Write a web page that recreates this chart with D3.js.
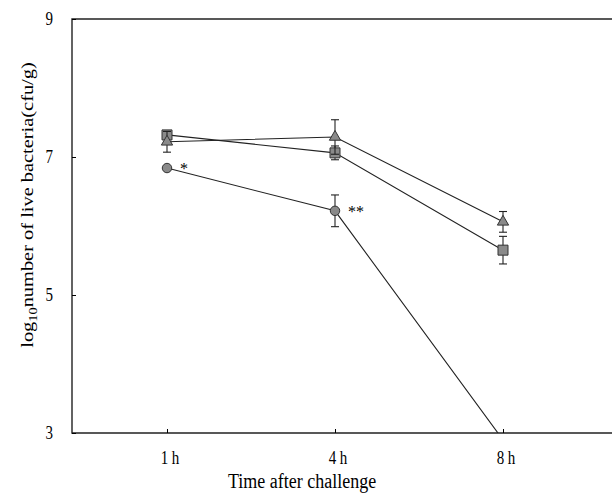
<!DOCTYPE html>
<html>
<head>
  <meta charset="utf-8">
  <title>Live bacteria</title>
  <script src="https://d3js.org/d3.v7.min.js"></script>
  <style>
    body { margin: 0; background: #fff; }
    text { font-family: "Liberation Serif", "Times New Roman", serif; fill: #000; }
  </style>
</head>
<body>
<div id="chart"></div>
<script type="text/javascript">
  let w = 612;
  let h = 495;

  // data
  let times = ['1 h', '4 h', '8 h'];
  let circleVals = [6.84, 6.22, 2.9];
  let circleErr = [0.02, 0.23, 0];
  let squareVals = [7.32, 7.06, 5.65];
  let squareErr = [0.05, 0.1, 0.2];
  let triangleVals = [7.22, 7.29, 6.06];
  let triangleErr = [0.15, 0.25, 0.15];
  let yTicks = [3, 5, 7, 9];
  let stars = ['*', '**', ''];

  let pLeft = 72, pRight = 612, pTop = 19, pBottom = 433;
  let stretch = 1.2; // the scanned text is taller than it is wide

  let xScale = d3.scalePoint().domain(times).range([167, 503]);
  let yScale = d3.scaleLinear().domain([3, 9]).range([pBottom, pTop]);

  let svg = d3.select('#chart')
              .append('svg')
              .attr('width', w)
              .attr('height', h);

  svg.append('clipPath').attr('id', 'plot')
     .append('rect')
     .attr('x', pLeft).attr('y', pTop)
     .attr('width', pRight - pLeft).attr('height', pBottom - pTop);

  // frame
  svg.append('path')
     .attr('d', `M${pRight},${pTop}H${pLeft}V${pBottom}H${pRight}`)
     .attr('fill', 'none')
     .attr('stroke', '#222')
     .attr('stroke-width', 1.4);

  // axes (ticks pointing inward)
  let yAxis = d3.axisRight(yScale).tickValues(yTicks).tickSize(4).tickFormat('');
  svg.append('g').attr('transform', `translate(${pLeft},0)`).call(yAxis)
     .call(g => g.select('.domain').remove());
  svg.selectAll('.ylab').data(yTicks).enter().append('text')
     .attr('transform', d => `translate(${pLeft - 19},${yScale(d) + 6}) scale(1,${stretch})`)
     .attr('text-anchor', 'end')
     .attr('font-size', '15px')
     .text(d => d);

  let xAxis = d3.axisTop(xScale).tickSize(4).tickFormat('');
  svg.append('g').attr('transform', `translate(0,${pBottom})`).call(xAxis)
     .call(g => g.select('.domain').remove());
  svg.selectAll('.xlab').data(times).enter().append('text')
     .attr('transform', d => `translate(${xScale(d) + 3},${pBottom + 31}) scale(1,${stretch})`)
     .attr('text-anchor', 'middle')
     .attr('font-size', '15px')
     .text(d => d);

  svg.append('text')
     .attr('transform', `translate(302,488) scale(1,${stretch})`)
     .attr('text-anchor', 'middle')
     .attr('font-size', '18px')
     .text('Time after challenge');

  let yl = svg.append('text')
     .attr('transform', `translate(33,205) rotate(-90) scale(${stretch},1)`)
     .attr('text-anchor', 'middle')
     .attr('font-size', '17px');
  yl.append('tspan').text('log');
  yl.append('tspan').attr('font-size', '12px').attr('dy', 4).text('10');
  yl.append('tspan').attr('dy', -4).text('number of live bacteria(cfu/g)');

  let plot = svg.append('g').attr('clip-path', 'url(#plot)');
  let line = d3.line().x((d, i) => xScale(times[i])).y(d => yScale(d));

  let series = [
    { vals: squareVals, err: squareErr, shape: d3.symbolSquare, size: 100 },
    { vals: triangleVals, err: triangleErr, shape: d3.symbolTriangle, size: 55 },
    { vals: circleVals, err: circleErr, shape: d3.symbolCircle, size: 70 }
  ];

  series.forEach(s => {
    plot.append('path')
        .attr('d', line(s.vals))
        .attr('fill', 'none')
        .attr('stroke', '#222')
        .attr('stroke-width', 1.1);

    let pts = s.vals.map((v, i) => ({ t: times[i], v: v, e: s.err[i] }))
                    .filter(p => p.v >= 3);

    let eb = plot.selectAll(null).data(pts.filter(p => p.e > 0.05)).enter().append('g')
                 .attr('stroke', '#222').attr('stroke-width', 1.1);
    eb.append('line')
      .attr('x1', p => xScale(p.t)).attr('x2', p => xScale(p.t))
      .attr('y1', p => yScale(p.v + p.e)).attr('y2', p => yScale(p.v - p.e));
    eb.append('line')
      .attr('x1', p => xScale(p.t) - 4).attr('x2', p => xScale(p.t) + 4)
      .attr('y1', p => yScale(p.v + p.e)).attr('y2', p => yScale(p.v + p.e));
    eb.append('line')
      .attr('x1', p => xScale(p.t) - 4).attr('x2', p => xScale(p.t) + 4)
      .attr('y1', p => yScale(p.v - p.e)).attr('y2', p => yScale(p.v - p.e));

    plot.selectAll(null).data(pts).enter().append('path')
        .attr('d', d3.symbol().type(s.shape).size(s.size))
        .attr('transform', p => `translate(${xScale(p.t)},${yScale(p.v)})`)
        .attr('fill', '#8a8a8a')
        .attr('stroke', '#333')
        .attr('stroke-width', 1);
  });

  // significance marks
  svg.selectAll('.star').data(circleVals.map((v, i) => ({ t: times[i], v: v, s: stars[i] })))
     .enter().append('text')
     .attr('transform', p => `translate(${xScale(p.t) + 13},${yScale(p.v) + 6}) scale(1,1.05)`)
     .attr('font-size', '16px')
     .text(p => p.s);
</script>
</body>
</html>
